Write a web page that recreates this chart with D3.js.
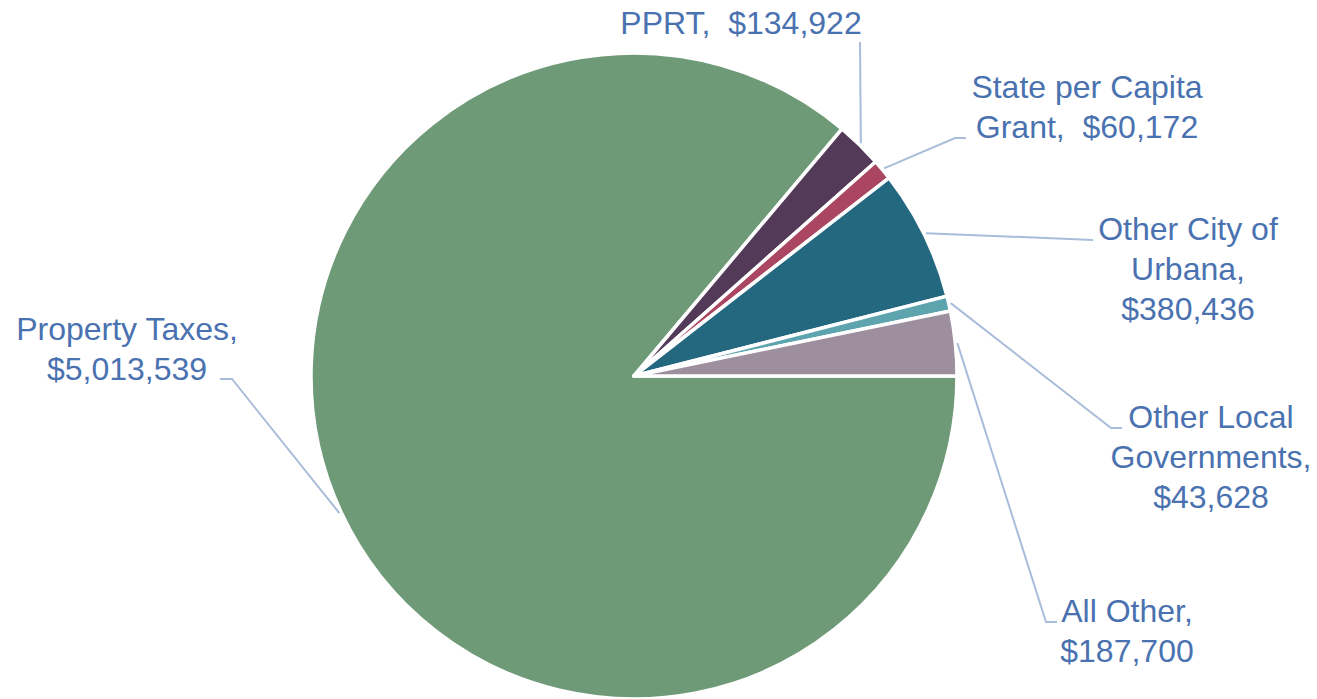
<!DOCTYPE html>
<html>
<head>
<meta charset="utf-8">
<script src="https://cdn.jsdelivr.net/npm/d3@7"></script>
<style>
    body { margin: 0; background: #fff; }
    .label { font-family: 'Liberation Sans', Arial, sans-serif; font-size: 32px; fill: #4a72b0; }
    .leader { fill: none; stroke: #a9bddb; stroke-width: 2; }
</style>
</head>
<body>
<div id="chart"></div>
<script>
// Revenue sources
const categories = ['Property Taxes', 'PPRT', 'State per Capita Grant', 'Other City of Urbana', 'Other Local Governments', 'All Other'];
const amounts = [5013539, 134922, 60172, 380436, 43628, 187700];
const labelLines = [
    ['Property Taxes,', '$5,013,539'],
    ['PPRT,  $134,922'],
    ['State per Capita', 'Grant,  $60,172'],
    ['Other City of', 'Urbana,', '$380,436'],
    ['Other Local', 'Governments,', '$43,628'],
    ['All Other,', '$187,700'],
];
const colors = ['#6f9a78', '#533a58', '#aa4562', '#246880', '#5ea4ae', '#9e8f9f'];

// label placement: elbow points of the leader line, text anchor and first baseline
const labelLayout = [
    { pts: [[232, 379], [220, 379]], tx: 127, ty: 340 },
    { pts: [[860, 42]], tx: 741, ty: 34 },
    { pts: [[955, 138], [966, 138]], tx: 1087, ty: 98 },
    { pts: [[1093, 240]], tx: 1188, ty: 240 },
    { pts: [[1111, 428], [1122, 428]], tx: 1211, ty: 428 },
    { pts: [[1046, 622], [1057, 622]], tx: 1127, ty: 622 },
];

const width = 1317, height = 699;
const cx = 634, cy = 376, radius = 323;
const lineHeight = 40;

const svg = d3.select('#chart').append('svg')
    .attr('width', width)
    .attr('height', height);

const g = svg.append('g').attr('transform', `translate(${cx},${cy})`);

const pie = d3.pie()
    .sort(null)
    .value((d) => d.value)
    .startAngle(Math.PI / 2)
    .endAngle(Math.PI / 2 + 2 * Math.PI);

const data = categories.map((c, i) => ({ name: c, value: amounts[i], idx: i }));
const arcs = pie(data);

const arc = d3.arc().innerRadius(0).outerRadius(radius);

g.selectAll('path.slice')
    .data(arcs)
    .enter()
    .append('path')
    .attr('class', 'slice')
    .attr('d', arc)
    .attr('fill', (d) => colors[d.data.idx])
    .attr('stroke', '#fff')
    .attr('stroke-width', 3.5)
    .attr('stroke-linejoin', 'round');

// leader lines
const lineGen = d3.line();
svg.selectAll('path.leader')
    .data(arcs)
    .enter()
    .append('path')
    .attr('class', 'leader')
    .attr('d', (d) => {
        let a = (d.startAngle + d.endAngle) / 2;
        let r = radius + 2;
        let start = [cx + r * Math.sin(a), cy - r * Math.cos(a)];
        return lineGen([start].concat(labelLayout[d.data.idx].pts));
    });

// labels
const labels = svg.selectAll('text.label')
    .data(arcs)
    .enter()
    .append('text')
    .attr('class', 'label')
    .attr('text-anchor', 'middle')
    .attr('x', (d) => labelLayout[d.data.idx].tx)
    .attr('y', (d) => labelLayout[d.data.idx].ty);

labels.each(function (d) {
    let lay = labelLayout[d.data.idx];
    d3.select(this).selectAll('tspan')
        .data(labelLines[d.data.idx])
        .enter()
        .append('tspan')
        .attr('x', lay.tx)
        .attr('y', (t, i) => lay.ty + i * lineHeight)
        .style('white-space', 'pre')
        .text((t) => t);
});
</script>
</body>
</html>
